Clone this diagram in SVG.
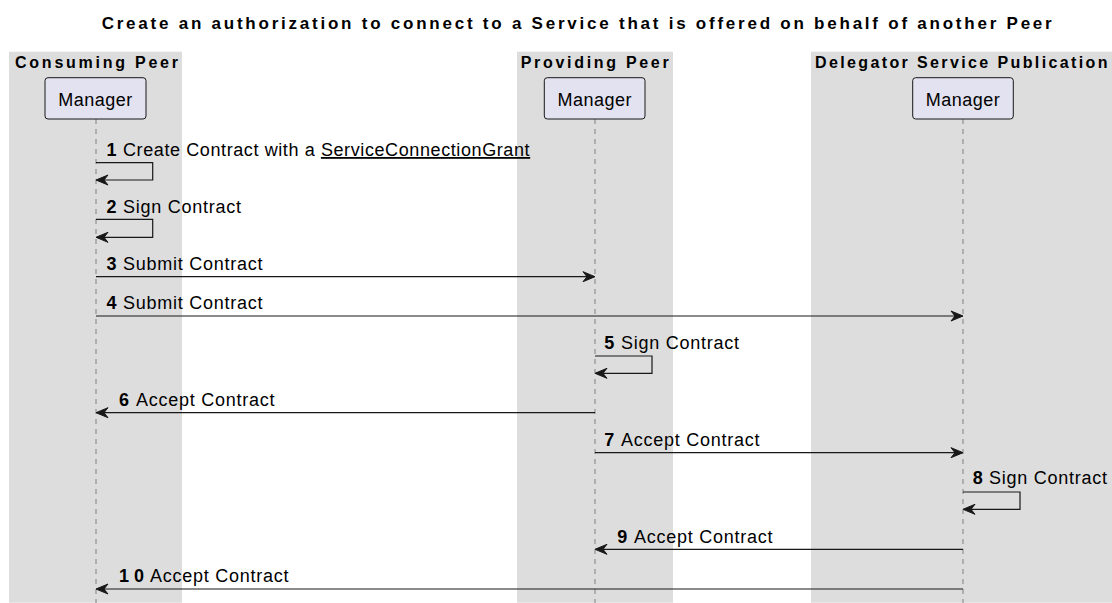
<svg xmlns="http://www.w3.org/2000/svg" width="1112" height="603" viewBox="0 0 1112 603">
<style>
  text { font-family: "Liberation Sans", Arial, sans-serif; fill: #000000; }
  .title { font-size: 17px; font-weight: bold; }
  .boxtitle { font-size: 16px; font-weight: bold; }
  .region { fill: #DDDDDD; stroke: none; }
  .part rect { fill: #E2E2F0; stroke: #181818; stroke-width: 1; }
  .part text { font-size: 18px; text-anchor: middle; letter-spacing: 0.5px; }
  .life { stroke: #808080; stroke-width: 1; stroke-dasharray: 5 5; fill: none; }
  .msg line, .msg polyline { stroke: #181818; stroke-width: 1.2; fill: none; }
  .msg text { font-size: 18px; letter-spacing: 0.75px; }
  .num { font-weight: bold; }
  .head { fill: #181818; stroke: #181818; stroke-width: 1; stroke-linejoin: miter; }
</style>
<defs>
  <polygon id="hR" class="head" points="0,0 -12,-5 -8,0 -12,5"/>
  <polygon id="hL" class="head" points="0,0 12,-5 8,0 12,5"/>
</defs>

<text class="title" x="101.7" y="28.5" textLength="950" lengthAdjust="spacing">Create an authorization to connect to a Service that is offered on behalf of another Peer</text>

<g id="box-consuming">
  <rect class="region" x="9" y="51.7" width="173" height="551"/>
  <text class="boxtitle" x="15" y="67.5" textLength="163" lengthAdjust="spacing">Consuming Peer</text>
</g>
<g id="box-providing">
  <rect class="region" x="517" y="51.7" width="156" height="551"/>
  <text class="boxtitle" x="520.7" y="67.5" textLength="148" lengthAdjust="spacing">Providing Peer</text>
</g>
<g id="box-delegator">
  <rect class="region" x="811" y="51.7" width="301" height="551"/>
  <text class="boxtitle" x="815" y="67.5" textLength="292.5" lengthAdjust="spacing">Delegator Service Publication</text>
</g>

<g id="lifelines">
  <line class="life" x1="96" y1="119" x2="96" y2="603"/>
  <line class="life" x1="595" y1="119" x2="595" y2="603"/>
  <line class="life" x1="963" y1="119" x2="963" y2="603"/>
</g>

<g id="consuming-manager" class="part">
  <rect x="45" y="77.7" width="101" height="41.3" rx="3" ry="3"/>
  <text x="95.5" y="105.5">Manager</text>
</g>
<g id="providing-manager" class="part">
  <rect x="544.3" y="77.7" width="100.7" height="41.3" rx="3" ry="3"/>
  <text x="594.7" y="105.5">Manager</text>
</g>
<g id="delegator-manager" class="part">
  <rect x="912.7" y="77.7" width="100.6" height="41.3" rx="3" ry="3"/>
  <text x="963" y="105.5">Manager</text>
</g>

<g id="connectors" class="msg">
  <!-- 1 -->
  <polyline points="96,162.7 152.7,162.7 152.7,180 97,180"/>
  <use href="#hL" x="96" y="180"/>
  <text y="156" style="letter-spacing:0.6px"><tspan class="num" x="106.5">1</tspan><tspan x="123">Create Contract with a </tspan><tspan text-decoration="underline">ServiceConnectionGrant</tspan></text>
  <!-- 2 -->
  <polyline points="96,219.3 152.7,219.3 152.7,237.3 97,237.3"/>
  <use href="#hL" x="96" y="237.3"/>
  <text y="212.7"><tspan class="num" x="106.5">2</tspan><tspan x="123">Sign Contract</tspan></text>
  <!-- 3 -->
  <line x1="96" y1="276.7" x2="594" y2="276.7"/>
  <use href="#hR" x="595" y="276.7"/>
  <text y="270"><tspan class="num" x="106.5">3</tspan><tspan x="123">Submit Contract</tspan></text>
  <!-- 4 -->
  <line x1="96" y1="316" x2="962" y2="316"/>
  <use href="#hR" x="963" y="316"/>
  <text y="309.3"><tspan class="num" x="106.5">4</tspan><tspan x="123">Submit Contract</tspan></text>
  <!-- 5 -->
  <polyline points="595,356 652,356 652,373.3 596,373.3"/>
  <use href="#hL" x="595" y="373.3"/>
  <text y="349"><tspan class="num" x="604.3">5</tspan><tspan x="621">Sign Contract</tspan></text>
  <!-- 6 -->
  <line x1="97" y1="412.7" x2="595" y2="412.7"/>
  <use href="#hL" x="96" y="412.7"/>
  <text y="406"><tspan class="num" x="119">6</tspan><tspan x="136">Accept Contract</tspan></text>
  <!-- 7 -->
  <line x1="595" y1="452.7" x2="962" y2="452.7"/>
  <use href="#hR" x="963" y="452.7"/>
  <text y="446"><tspan class="num" x="604.3">7</tspan><tspan x="621">Accept Contract</tspan></text>
  <!-- 8 -->
  <polyline points="963,492 1020,492 1020,509.3 964,509.3"/>
  <use href="#hL" x="963" y="509.3"/>
  <text y="484.3"><tspan class="num" x="972.7">8</tspan><tspan x="989">Sign Contract</tspan></text>
  <!-- 9 -->
  <line x1="596" y1="549.3" x2="963" y2="549.3"/>
  <use href="#hL" x="595" y="549.3"/>
  <text y="542.7"><tspan class="num" x="617.3">9</tspan><tspan x="634">Accept Contract</tspan></text>
  <!-- 10 -->
  <line x1="97" y1="589" x2="963" y2="589"/>
  <use href="#hL" x="96" y="589"/>
  <text y="582.3"><tspan class="num" x="119" style="letter-spacing:0">1 0</tspan><tspan x="150">Accept Contract</tspan></text>
</g>
</svg>
